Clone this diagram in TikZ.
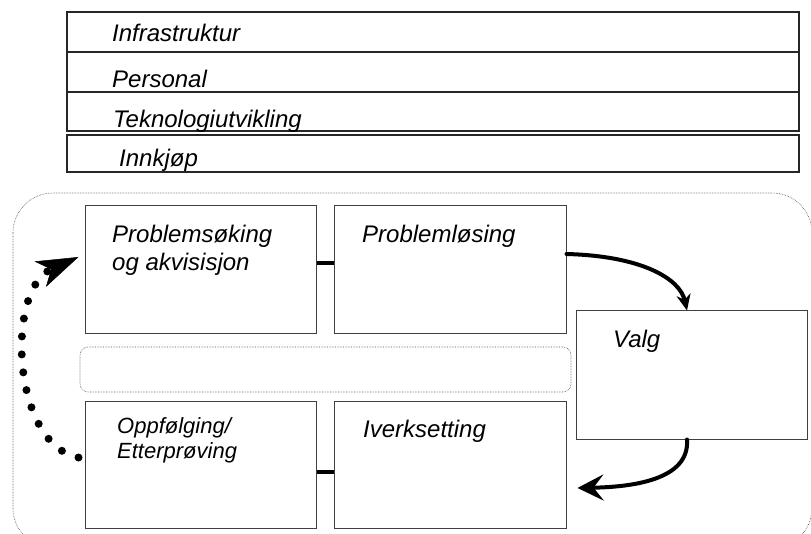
\documentclass[tikz,border=0pt]{standalone}
\usepackage{fontspec}
\setmainfont{Liberation Sans}
\usepackage{tikz}
\usetikzlibrary{arrows.meta}

\tikzset{
  bar/.style={draw=black!85,line width=1.2pt,minimum width=732pt,inner sep=0pt},
  box/.style={draw=black!75,line width=1pt,minimum width=231pt,minimum height=128pt,inner sep=0pt},
  lbl/.style={anchor=base west,inner sep=0pt,align=left,font=\fontsize{24}{28}\selectfont\itshape},
  flow/.style={line width=4pt,line cap=round},
}

\begin{document}
\begin{tikzpicture}[x=1pt,y=-1pt]
\useasboundingbox (0,0) rectangle (811,534);
% support activities
\node (infra) at (433,32)[bar,minimum height=40pt]{};
\node (personal) at (433,72)[bar,minimum height=40pt]{};
\node (tekno) at (433,111.5)[bar,minimum height=39pt]{};
\node (innkjop) at (433,153.5)[bar,minimum height=37pt]{};
\node (infralbl) at (112,42)[lbl]{Infrastruktur};
\node (personallbl) at (112,88)[lbl]{Personal};
\node (teknolbl) at (113,128)[lbl]{Teknologiutvikling};
\node (innkjoplbl) at (119,167)[lbl]{Innkjøp};
% process
\draw[densely dotted,black!70,line width=0.6pt,rounded corners=40pt] (13,193) rectangle (812,548);
\node (gap) at (325.5,369.5)[draw=black!70,densely dotted,line width=0.6pt,rounded corners=8pt,minimum width=491pt,minimum height=45pt]{};
\node (sok) at (200.5,270)[box]{};
\node (los) at (450,270)[box,minimum width=232pt]{};
\node (valg) at (691.5,375)[box]{};
\node (oppf) at (200.5,464.5)[box,minimum height=127pt]{};
\node (iverk) at (450,464.5)[box,minimum width=232pt,minimum height=127pt]{};
% base of a two-line label is its last line
\node (soklbl) at (112,271)[lbl]{Problemsøking\\og akvisisjon};
\node (loslbl) at (362,243)[lbl]{Problemløsing};
\node (valglbl) at (613,348)[lbl]{Valg};
\node (oppflbl) at (117,458)[lbl,font=\fontsize{22}{25}\selectfont\itshape]{Oppfølging/\\Etterprøving};
\node (iverklbl) at (363,437)[lbl]{Iverksetting};
\draw[flow,line cap=butt] ([yshift=7pt]sok.east) -- ([yshift=7pt]los.west);
\draw[flow,line cap=butt] ([yshift=-7.5pt]oppf.east) -- ([yshift=-7.5pt]iverk.west);
\draw[flow,-{Stealth[length=16pt,width=14pt]}] ([yshift=16pt]los.east) .. controls +(75,2) and +(-7,-32) .. ([xshift=-4.5pt]valg.north);
\draw[flow,-{Stealth[length=26pt,width=26pt,inset=10pt]}] ([xshift=-4.5pt]valg.south) .. controls +(3,41) and +(53,-1) .. ([xshift=11pt,yshift=-23.5pt]iverk.east);
% feedback loop
\coordinate (loopstart) at ([xshift=-6pt,yshift=7pt]oppf.west);
\coordinate (looptip) at ([xshift=-6pt,yshift=13pt]sok.west);
\draw[line width=8pt,line cap=round,dash pattern=on 0pt off 18pt,-{Stealth[length=42pt,width=28pt,inset=12pt,line width=0.5pt]}] (loopstart) .. controls (12,445) and (5,290) .. (looptip);
\end{tikzpicture}
\end{document}
